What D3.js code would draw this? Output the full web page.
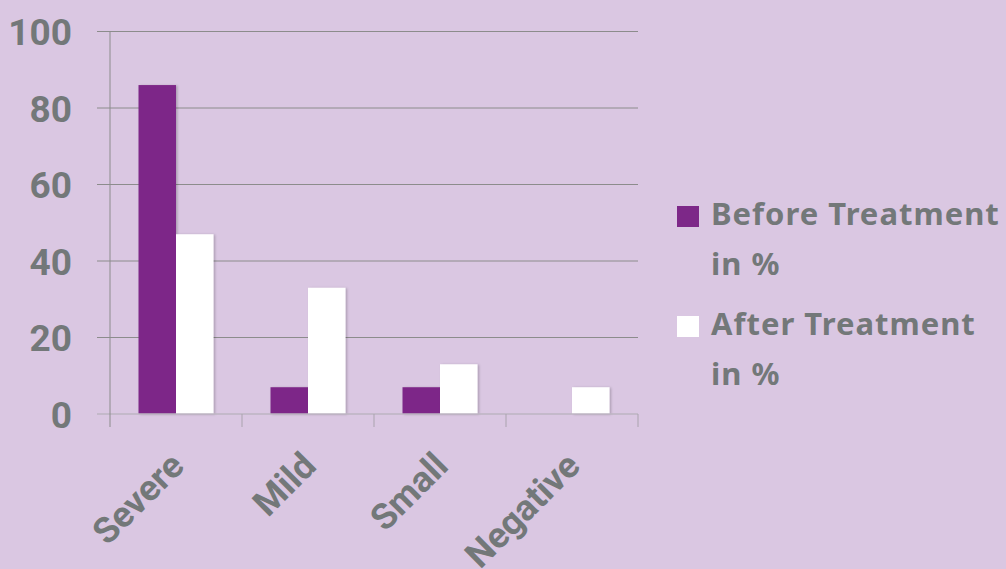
<!DOCTYPE html>
<html><head><meta charset="utf-8">
<script src="https://cdn.jsdelivr.net/npm/d3@7"></script>
<style>
html,body{margin:0;padding:0;background:#dac7e2;}
text{font-family:Roboto,"Noto Sans",sans-serif;font-weight:bold;fill:#737879;}
text.leg{font-family:"Noto Sans",Roboto,sans-serif;}
</style></head>
<body>
<svg id="chart" width="1006" height="569"></svg>
<script>
const categories = ["Severe", "Mild", "Small", "Negative"];
const seriesNames = ["Before Treatment in %", "After Treatment in %"];
const beforeValues = [86, 7, 7, 0];
const afterValues = [47, 33, 13, 7];
const yTicks = [0, 20, 40, 60, 80, 100];
const colors = ["#7d2888", "#ffffff"];

(function () {
const svg = d3.select("#chart");
const W = 1006, H = 569;
svg.append("rect").attr("width", W).attr("height", H).attr("fill", "#dac7e2");

const pL = 110, pR = 638, pT = 31.5, pB = 414;
const x = d3.scaleBand().domain(categories).range([pL, pR]).paddingInner(0).paddingOuter(0);
const xs = d3.scaleBand().domain([0, 1]).range([0, x.bandwidth()]).paddingInner(0).paddingOuter(0.76);
const y = d3.scaleLinear().domain([0, 100]).range([pB, pT]);

const defs = svg.append("defs");
const f = defs.append("filter").attr("id", "sh").attr("x", "-20%").attr("y", "-20%").attr("width", "140%").attr("height", "140%");
f.append("feDropShadow").attr("dx", 1.5).attr("dy", 0.5).attr("stdDeviation", 1.2).attr("flood-color", "#000").attr("flood-opacity", 0.22);

// gridlines
svg.append("g").selectAll("line").data(yTicks.filter(d => d > 0)).join("line")
  .attr("x1", 97).attr("x2", pR).attr("y1", d => y(d)).attr("y2", d => y(d))
  .attr("stroke", "#8c8c8c").attr("stroke-width", 1);

// y axis labels
const yAxis = d3.axisLeft(y).tickValues(yTicks).tickSize(0).tickPadding(0);
const ya = svg.append("g").attr("transform", `translate(${pL - 36},0)`).call(yAxis);
ya.select(".domain").remove();
ya.attr("font-family", null).attr("font-size", null);
ya.selectAll("text").style("font-size", "37px").attr("dy", "0.36em").attr("x", -2);

// bars
const data = categories.map((c, i) => ({c, v: [beforeValues[i], afterValues[i]]}));
const gBars = svg.append("g");
data.forEach(d => {
  d.v.forEach((v, k) => {
    if (v <= 0) return;
    gBars.append("rect")
      .attr("x", x(d.c) + xs(k)).attr("width", xs.bandwidth())
      .attr("y", y(v)).attr("height", y(0) - y(v))
      .attr("fill", colors[k]).attr("filter", "url(#sh)");
  });
});

// baseline and x axis
svg.append("line").attr("x1", 97).attr("x2", pR).attr("y1", y(0)).attr("y2", y(0))
  .attr("stroke", "#bdb4c2").attr("stroke-width", 1.5);
svg.append("line").attr("x1", pL).attr("x2", pL).attr("y1", pT).attr("y2", 427)
  .attr("stroke", "#8c8c8c").attr("stroke-width", 1);
const bounds = categories.map(c => x(c)).concat([pR]).slice(1);
svg.append("g").selectAll("line").data(bounds).join("line")
  .attr("x1", d => d).attr("x2", d => d).attr("y1", y(0)).attr("y2", 427)
  .attr("stroke", "#aaa3ae").attr("stroke-width", 1);

// category labels
svg.append("g").selectAll("text").data(categories).join("text")
  .attr("transform", c => `translate(${x(c) + x.bandwidth() / 2 + 10},468) rotate(-45)`)
  .attr("text-anchor", "end").style("font-size", "36px").text(c => c);

// legend
const legend = svg.append("g");
const legendLines = [["Before Treatment", "in %"], ["After Treatment", "in %"]];
legendLines.forEach((lines, k) => {
  const by = 225 + k * 110;
  legend.append("rect").attr("x", 677).attr("y", by - 19).attr("width", 22).attr("height", 21).attr("fill", colors[k]);
  lines.forEach((t, j) => {
    legend.append("text").attr("class", "leg").attr("x", 711).attr("y", by + j * 50)
      .style("font-size", "31px").style("letter-spacing", "1px").text(t);
  });
});
})();
</script>
</body></html>
